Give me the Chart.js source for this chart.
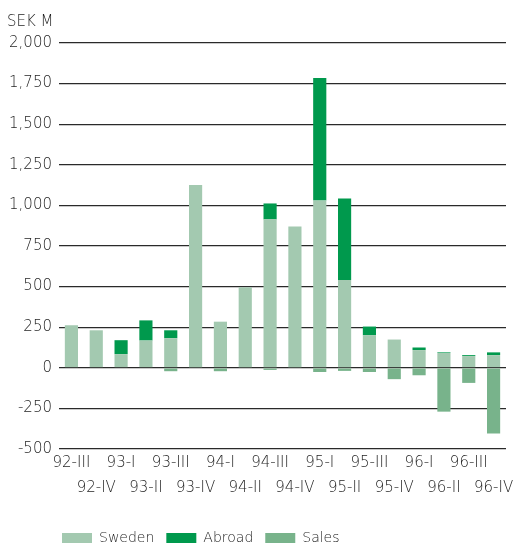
<!DOCTYPE html>
<html>
<head>
  <meta charset="utf-8">
  <title>Order intake</title>
  <script src="https://cdn.jsdelivr.net/npm/chart.js@4.4.0/dist/chart.umd.min.js"></script>
  <style>
    html, body { margin: 0; padding: 0; background: #fff; }
    #wrap { width: 515px; height: 543px; }
  </style>
</head>
<body>
  <div id="wrap"><canvas id="orders" width="515" height="543"></canvas></div>

  <script>
    // quarters, 92-III .. 96-IV
    var quarters = ['92-III', '92-IV', '93-I', '93-II', '93-III', '93-IV',
                    '94-I', '94-II', '94-III', '94-IV', '95-I', '95-II',
                    '95-III', '95-IV', '96-I', '96-II', '96-III', '96-IV'];

    // SEK M
    var sweden = [262, 231, 84, 168, 182, 1125, 284, 496, 914, 870, 1030, 541,
                  200, 174, 109, 91, 72, 78];
    var abroad = [0, 0, 86, 124, 49, 0, 0, 0, 98, 0, 754, 501,
                  54, 0, 16, 4, 6, 17];
    var sales  = [0, 0, 0, 0, -21, 0, -21, 0, -13, 0, -26, -19,
                  -26, -70, -46, -270, -93, -405];

    var yTicks = [-500, -250, 0, 250, 500, 750, 1000, 1250, 1500, 1750, 2000];

    var textColor = '#1e1e1e';
    var font = "'DejaVu Sans', sans-serif";

    // unit label above the value axis, legend pulled under the plot
    var extras = {
      id: 'extras',
      afterUpdate: function (chart) {
        chart.legend.left = chart.chartArea.left - 9;
      },
      afterDraw: function (chart) {
        var c = chart.ctx;
        c.save();
        c.fillStyle = textColor;
        c.font = '200 15px ' + font;
        c.textBaseline = 'middle';
        c.textAlign = 'left';
        c.fillText('SEK M', 7, 22);
        c.restore();
      }
    };

    var ctx = document.getElementById('orders').getContext('2d');
    var chart = new Chart(ctx, {
      type: 'bar',
      data: {
        labels: quarters,
        datasets: [
          { label: 'Sweden', data: sweden, backgroundColor: '#a3c9b0' },
          { label: 'Abroad', data: abroad, backgroundColor: '#00994d' },
          { label: 'Sales',  data: sales,  backgroundColor: '#78b38b' }
        ]
      },
      options: {
        responsive: false,
        animation: false,
        layout: { padding: { left: 0, right: 9, top: 43, bottom: -12 } },
        datasets: { bar: { barPercentage: 0.53, categoryPercentage: 1 } },
        scales: {
          x: {
            stacked: true,
            grid: { display: false, drawTicks: false },
            border: { display: false },
            afterFit: function (scale) { scale.height = 70; },
            ticks: {
              autoSkip: false,
              maxRotation: 0,
              padding: 1.5,
              color: textColor,
              font: { family: font, size: 15, weight: 200, lineHeight: 1.667 },
              // alternate labels between two rows
              callback: function (val, i) {
                var lbl = quarters[i];
                return i % 2 === 0 ? [lbl, ''] : ['', lbl];
              }
            }
          },
          y: {
            stacked: true,
            min: -500,
            max: 2000,
            afterFit: function (scale) { scale.width = 59; },
            afterBuildTicks: function (scale) {
              scale.ticks = yTicks.map(function (v) { return { value: v }; });
            },
            grid: { color: '#2a2a2a', lineWidth: 1.3, drawTicks: false },
            border: { display: false },
            ticks: {
              padding: 7,
              color: textColor,
              font: { family: font, size: 15, weight: 200 },
              callback: function (v) { return v.toLocaleString('en-US'); }
            }
          }
        },
        plugins: {
          tooltip: { enabled: false },
          legend: {
            position: 'bottom',
            align: 'start',
            labels: {
              boxWidth: 30,
              boxHeight: 10,
              padding: 12,
              color: textColor,
              font: { family: font, size: 14, weight: 200 }
            }
          }
        }
      },
      plugins: [extras]
    });
  </script>
</body>
</html>
